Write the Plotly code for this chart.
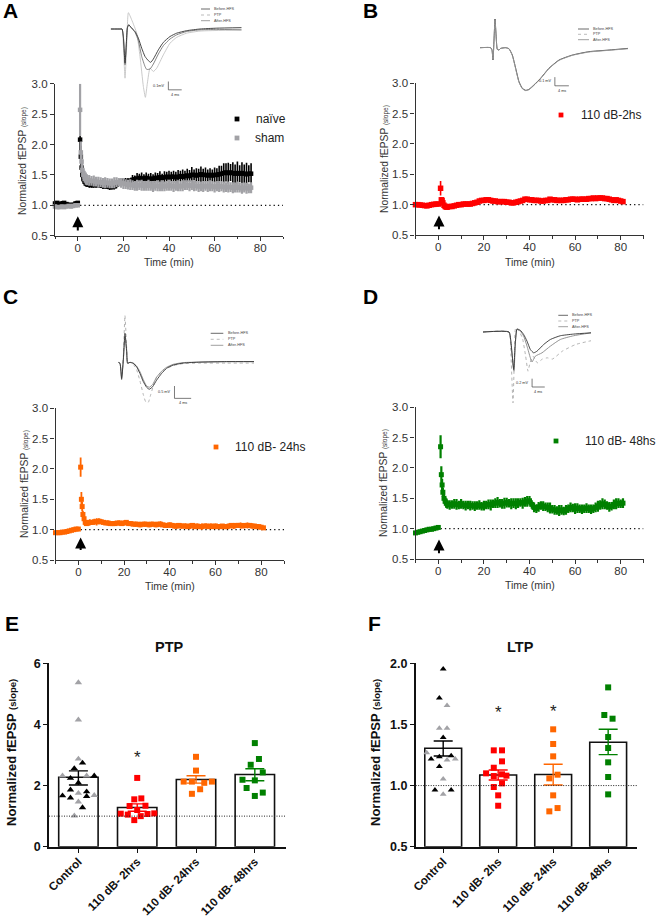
import plotly.graph_objects as go

W, H = 658, 919
FONT = "Liberation Sans, Arial, sans-serif"
AXC = "#2b2b2b"

# ---------- time axes ----------
pre_t = [-10, -9, -8, -7, -6, -5, -4, -3, -2, -1, 0]
early_t = [1, 1.33, 1.67, 2, 2.5, 3, 3.5, 4]
t_a = pre_t + early_t + list(range(5, 77))
t_b = pre_t + early_t + list(range(5, 82))

# ---------- panel A ----------
naive_mean = [1.03, 1.04, 1.02, 1.03, 1.04, 1.02, 1.01, 1.00, 1.01, 1.03, 1.04,
              2.08, 1.80, 1.62, 1.50, 1.43, 1.39, 1.36, 1.35,
              1.34, 1.33, 1.33, 1.34, 1.33, 1.33, 1.32, 1.31, 1.31, 1.30,
              1.30, 1.31, 1.34, 1.37, 1.39, 1.40, 1.39, 1.38, 1.40, 1.42,
              1.43, 1.44, 1.45, 1.44, 1.44, 1.45, 1.44, 1.43, 1.44, 1.45,
              1.45, 1.46, 1.45, 1.46, 1.47, 1.46, 1.47, 1.47, 1.46, 1.47,
              1.48, 1.47, 1.48, 1.49, 1.48, 1.50, 1.50, 1.49, 1.50, 1.51,
              1.50, 1.50, 1.49, 1.50, 1.49, 1.50, 1.50, 1.51, 1.52, 1.53,
              1.54, 1.53, 1.54, 1.53, 1.52, 1.53, 1.52, 1.53, 1.52, 1.51, 1.52, 1.52]
naive_err = [.03, .02, .03, .04, .02, .03, .03, .02, .03, .04, .03,
             .30, .18, .12, .09, .07, .06, .05, .05,
             .05, .04, .04, .05, .04, .04, .05, .04, .04, .05,
             .04, .05, .06, .05, .06, .05, .06, .07, .05, .08,
             .06, .09, .07, .10, .07, .09, .08, .10, .07, .09,
             .08, .10, .07, .10, .08, .11, .08, .10, .09, .11,
             .09, .12, .09, .11, .10, .13, .09, .12, .10, .13,
             .10, .12, .10, .11, .10, .12, .11, .14, .13, .16,
             .15, .17, .14, .18, .15, .19, .14, .18, .15, .19, .14, .17]
sham_mean = [.98, .97, .97, .98, .97, .98, .99, .98, .99, 1.0, 1.0,
             2.57, 1.87, 1.72, 1.58, 1.50, 1.47, 1.44, 1.42,
             1.41, 1.40, 1.40, 1.39, 1.38, 1.38, 1.37, 1.37, 1.37, 1.36,
             1.36, 1.37, 1.38, 1.38, 1.37, 1.36, 1.35, 1.34, 1.34, 1.33,
             1.32, 1.33, 1.33, 1.33, 1.32, 1.32, 1.33, 1.32, 1.31, 1.32,
             1.32, 1.31, 1.32, 1.31, 1.32, 1.33, 1.32, 1.31, 1.32, 1.32,
             1.31, 1.32, 1.33, 1.33, 1.32, 1.33, 1.32, 1.32, 1.31, 1.31,
             1.31, 1.32, 1.31, 1.32, 1.31, 1.30, 1.31, 1.31, 1.31, 1.30,
             1.30, 1.30, 1.30, 1.29, 1.29, 1.30, 1.29, 1.28, 1.29, 1.28, 1.28, 1.29]
sham_err = [.03, .03, .02, .03, .03, .02, .03, .03, .02, .03, .03,
            .43, .18, .13, .11, .10, .10, .10, .09,
            .09, .08, .09, .08, .09, .08, .08, .09, .08, .08,
            .08, .09, .08, .07, .08, .09, .08, .08, .09, .08,
            .08, .09, .08, .09, .08, .08, .09, .08, .09, .08,
            .09, .08, .09, .08, .08, .09, .08, .09, .08, .09,
            .08, .09, .08, .08, .09, .08, .09, .08, .09, .08,
            .09, .08, .09, .09, .08, .09, .08, .09, .08, .09,
            .08, .09, .08, .09, .08, .09, .08, .09, .08, .09, .08, .09]

# ---------- panel B ----------
red_mean = [1.0, 1.0, .995, .99, .985, .98, .99, 1.0, 1.005, 1.01, 1.01,
            1.27, 1.08, 1.07, 1.03, .99, .97, .96, .96,
            .97, .97, .98, .99, 1.0, 1.0, 1.01, 1.01, 1.01, 1.01,
            1.02, 1.03, 1.04, 1.06, 1.07, 1.07, 1.08, 1.08, 1.07, 1.06,
            1.06, 1.05, 1.05, 1.05, 1.05, 1.04, 1.04, 1.03, 1.03, 1.04,
            1.05, 1.06, 1.07, 1.09, 1.09, 1.08, 1.08, 1.07, 1.07, 1.07,
            1.06, 1.06, 1.07, 1.07, 1.09, 1.08, 1.08, 1.07, 1.07, 1.07,
            1.07, 1.08, 1.08, 1.09, 1.09, 1.09, 1.08, 1.09, 1.09, 1.09,
            1.09, 1.10, 1.10, 1.11, 1.10, 1.11, 1.11, 1.11, 1.10, 1.10,
            1.09, 1.08, 1.07, 1.08, 1.07, 1.06, 1.05]
red_err = [.01, .01, .01, .01, .01, .01, .01, .01, .01, .01, .01,
           .12, .04, .03, .03, .02, .02, .02, .02,
           .02, .02, .02, .02, .02, .02, .02, .02, .02, .02,
           .02, .02, .02, .02, .03, .02, .02, .03, .02, .02,
           .02, .02, .02, .03, .02, .02, .02, .02, .03, .02,
           .02, .03, .02, .03, .02, .02, .03, .02, .02, .03,
           .02, .02, .03, .02, .03, .02, .02, .03, .02, .02,
           .02, .03, .02, .03, .02, .03, .02, .02, .03, .02,
           .03, .02, .03, .03, .02, .03, .02, .03, .02, .03,
           .02, .03, .02, .03, .02, .02, .03]

# ---------- panel C ----------
orange_mean = [.95, .95, .95, .96, .96, .97, .98, .99, 1.0, 1.01, 1.01,
               2.03, 1.50, 1.38, 1.25, 1.18, 1.12, 1.10, 1.11,
               1.12, 1.12, 1.13, 1.13, 1.14, 1.13, 1.12, 1.11, 1.11, 1.10,
               1.10, 1.10, 1.11, 1.11, 1.10, 1.11, 1.12, 1.10, 1.10, 1.09,
               1.09, 1.09, 1.08, 1.09, 1.09, 1.09, 1.08, 1.09, 1.09, 1.08,
               1.09, 1.09, 1.08, 1.07, 1.07, 1.08, 1.07, 1.06, 1.06, 1.07,
               1.06, 1.06, 1.06, 1.05, 1.06, 1.07, 1.05, 1.06, 1.05, 1.05,
               1.06, 1.06, 1.05, 1.06, 1.05, 1.06, 1.05, 1.05, 1.06, 1.05,
               1.05, 1.06, 1.07, 1.06, 1.07, 1.07, 1.07, 1.06, 1.07, 1.07,
               1.07, 1.06, 1.06, 1.05, 1.05, 1.04, 1.03]
orange_err = [.01, .01, .01, .01, .01, .01, .01, .02, .02, .02, .02,
              .16, .12, .08, .06, .05, .04, .04, .05,
              .05, .04, .05, .06, .05, .04, .04, .03, .04, .03,
              .03, .04, .03, .04, .03, .04, .04, .03, .04, .03,
              .04, .03, .04, .03, .04, .03, .04, .04, .03, .04,
              .04, .05, .03, .04, .03, .04, .03, .04, .05, .03,
              .04, .03, .04, .03, .05, .04, .03, .04, .03, .05,
              .03, .04, .03, .04, .03, .04, .03, .04, .03, .04,
              .03, .04, .03, .05, .03, .04, .05, .03, .04, .05,
              .03, .04, .03, .04, .03, .03, .02]

# ---------- panel D ----------
green_mean = [.93, .94, .95, .96, .97, .98, .99, .99, 1.0, 1.01, 1.02,
              2.35, 1.89, 1.72, 1.60, 1.50, 1.45, 1.42, 1.40,
              1.39, 1.40, 1.41, 1.40, 1.39, 1.41, 1.39, 1.38, 1.39, 1.38,
              1.38, 1.37, 1.38, 1.39, 1.37, 1.38, 1.39, 1.40, 1.39, 1.41,
              1.42, 1.43, 1.42, 1.41, 1.42, 1.43, 1.42, 1.41, 1.42, 1.41,
              1.42, 1.43, 1.42, 1.44, 1.45, 1.46, 1.40, 1.35, 1.33, 1.36,
              1.38, 1.37, 1.36, 1.35, 1.34, 1.32, 1.31, 1.30, 1.30, 1.31,
              1.29, 1.31, 1.33, 1.35, 1.34, 1.33, 1.34, 1.33, 1.32, 1.33,
              1.34, 1.33, 1.32, 1.33, 1.35, 1.37, 1.39, 1.41, 1.40, 1.38,
              1.36, 1.37, 1.40, 1.41, 1.42, 1.41, 1.42]
green_err = [.01, .01, .01, .01, .01, .01, .01, .01, .01, .01, .01,
             .19, .14, .10, .08, .07, .07, .08, .07,
             .08, .07, .08, .09, .07, .08, .07, .08, .07, .08,
             .07, .08, .07, .08, .07, .08, .07, .08, .09, .07,
             .08, .09, .07, .08, .09, .08, .07, .09, .08, .09,
             .08, .07, .09, .08, .09, .08, .07, .08, .07, .08,
             .07, .08, .07, .08, .09, .07, .08, .07, .09, .08,
             .07, .08, .07, .08, .07, .09, .08, .07, .08, .07,
             .08, .07, .08, .07, .08, .09, .08, .09, .08, .07,
             .08, .07, .08, .09, .08, .07, .08]

# ---------- inset traces (ms, mV) ----------
ia_bt = [0, 2.8, 3.4, 3.8, 4.3, 4.7, 5.0, 5.4, 6.3, 7.3, 8.3, 9.3, 10.3, 11.3, 12, 12.8, 14.3, 15.8, 17.8, 19.8, 22.8, 26.8, 31.8, 39.3]
ia_bv = [0, 0, 0, -.09, -.41, -.17, .01, .05, .01, -.03, -.11, -.23, -.33, -.38, -.40, -.36, -.25, -.16, -.09, -.05, -.02, 0, .01, .016]
ia_at = [0, 2.8, 3.4, 3.8, 4.3, 4.7, 5.0, 5.4, 6.3, 7.3, 8.3, 9.3, 10.3, 10.8, 11.8, 12.8, 14.3, 15.8, 17.8, 19.8, 22.8, 26.8, 31.8, 39.3]
ia_av = [0, 0, 0, -.1, -.43, -.17, .02, .05, .01, -.04, -.14, -.33, -.45, -.485, -.48, -.42, -.30, -.2, -.12, -.07, -.03, -.01, -.005, -.01]
ia_pt = [0, 2.8, 3.4, 3.8, 4.3, 4.8, 5.3, 6.3, 7.8, 8.8, 9.8, 10.4, 11, 11.8, 12.8, 13.8, 15.8, 17.8, 19.8, 22.8, 26.8, 39.3]
ia_pv = [0, 0, 0, -.2, -.59, -.2, .196, .11, -.05, -.33, -.69, -.82, -.65, -.47, -.51, -.47, -.31, -.17, -.10, -.05, -.025, -.012]

ib_t = [0, 3.05, 3.43, 3.71, 4.0, 4.29, 4.57, 4.95, 5.43, 5.9, 7.33, 8.29, 9.24, 10.2, 11.14, 12.1, 13.05, 14, 15.4, 17.3, 19.7, 22.6, 26.4, 31.1, 36.9, 42.3]
ib_bv = [0, 0, -.027, -.142, .088, .331, .165, -.019, -.027, -.008, 0, -.012, -.085, -.238, -.392, -.469, -.492, -.481, -.431, -.354, -.238, -.142, -.085, -.046, -.027, -.008]
ib_av = [0, 0, -.027, -.135, .08, .32, .16, -.019, -.027, -.008, 0, -.014, -.09, -.245, -.398, -.474, -.496, -.485, -.436, -.358, -.242, -.146, -.088, -.05, -.03, -.012]

ic_t = [0, .4, .8, 1.2, 1.6, 2, 2.24, 2.8, 3.6, 4.4, 5.2, 6, 6.8, 7.44, 8.24, 9.2, 10.4, 11.6, 13.2, 15.6, 19.6, 26, 32.6]
ic_bv = [0, -.04, -.69, .09, 1.18, .5, -.04, 0, -.04, -.18, -.45, -.78, -1.01, -1.09, -.99, -.72, -.45, -.24, -.11, -.03, .01, .03, .03]
ic_av = [0, -.04, -.62, .09, 1.0, .45, -.03, 0, -.03, -.15, -.38, -.7, -.96, -1.01, -.9, -.6, -.36, -.2, -.08, -.01, .01, .03, .03]
ic_pt = [0, .4, .8, 1.2, 1.6, 2, 2.24, 2.8, 3.6, 4.4, 5.2, 6, 6.6, 7.2, 7.8, 8.6, 9.2, 10.4, 11.6, 13.2, 15.6, 19.6, 26, 32.6]
ic_pv = [0, -.04, -.6, .2, 1.9, .6, -.03, 0, -.08, -.3, -.75, -1.3, -1.6, -1.62, -1.3, -.85, -.6, -.4, -.25, -.13, -.05, -.03, -.03, -.03]

id_bt = [0, 8.21, 8.74, 9.68, 10.2, 10.74, 11.8, 12.84, 13.9, 14.95, 16, 17.05, 19.16, 21.26, 24.4, 28.6, 34.1]
id_bv = [0, 0, -.18, -.9, -.26, .07, .04, -.06, -.22, -.42, -.5, -.46, -.3, -.18, -.09, -.05, -.02]
id_at = [0, 8.21, 8.74, 9.79, 10.2, 10.74, 11.8, 12.84, 13.9, 14.95, 15.47, 16.53, 18.63, 21.26, 24.4, 28.6, 34.1]
id_av = [0, 0, -.22, -.94, -.3, .07, .02, -.1, -.34, -.62, -.72, -.58, -.5, -.34, -.18, -.09, -.02]
id_pt = [0, 8.21, 8.74, 9.47, 9.89, 10.32, 11.37, 12.42, 13.47, 14.21, 14.84, 15.79, 17.16, 18.74, 20.32, 21.9, 25.05, 29.26, 34.1]
id_pv = [0, 0, -.42, -1.7, -.66, .1, .02, -.14, -.58, -.94, -.74, -.58, -.74, -.65, -.62, -.65, -.46, -.3, -.21]

# ---------- bar panels ----------
ptp_labels = ["Control", "110 dB- 2hrs", "110 dB- 24hrs", "110 dB- 48hrs"]
ltp_labels = ["Control", "110 dB- 2hs", "110 dB- 24hs", "110 dB- 48hs"]
ptp_means = [2.27, 1.28, 2.20, 2.36]
ptp_up = [.21, .12, .12, .19]
ptp_dn = [.25, .12, .12, .20]
ltp_means = [1.305, 1.086, 1.09, 1.354]
ltp_up = [.06, .041, .084, .106]
ltp_dn = [.063, .041, .085, .101]

e_gray_x = [0, 0, 0, -.27, .14, 0, .27, 0, -.07]
e_gray_y = [5.37, 4.15, 2.87, 2.32, 2.32, 1.75, 1.68, 1.47, 1.01]
e_black_x = [-.07, .07, .27, -.135, 0, -.135, .14, -.27, -.135, .14, .07]
e_black_y = [2.56, 2.74, 2.32, 2.24, 2.09, 1.86, 1.80, 1.67, 1.6, 1.65, 1.28]
e_red_x = [1, .95, 1.07, .87, 1.14, 1, .72, .84, 1.175, 1.29, 1.06, .95]
e_red_y = [2.25, 1.55, 1.58, 1.33, 1.34, 1.2, 1.08, 1.05, 1.07, 1.09, 1.0, .87]
e_orange_x = [2, 2, 1.79, 1.93, 2.14, 2.27, 2.07, 1.93]
e_orange_y = [2.94, 2.49, 2.13, 2.13, 2.09, 2.13, 1.88, 1.73]
e_green_x = [3, 3.07, 2.93, 3.135, 2.79, 3, 2.86, 3.135, 3]
e_green_y = [3.39, 2.87, 2.68, 2.43, 2.19, 2.17, 1.92, 1.77, 1.66]

f_black_x = [0, -.07, 0, .145, -.07, -.22, -.07, -.15, .145]
f_black_y = [1.953, 1.716, 1.394, 1.244, 1.236, 1.217, 1.155, .964, .964]
f_gray_x = [.07, -.07, .07, -.3, .07, .22, 0, 0]
f_gray_y = [1.654, 1.468, 1.468, 1.269, 1.21, 1.217, 1.054, .928]
f_red_x = [.92, 1.07, 1.07, .92, .78, .92, 1.07, 1.15, 1.07, .92, 1, 1]
f_red_y = [1.288, 1.288, 1.198, 1.146, 1.1, 1.078, 1.092, 1.081, 1.018, .988, .92, .835]
f_orange_x = [2, 2, 2, 2.08, 1.93, 2, 2.08, 1.93]
f_orange_y = [1.46, 1.34, 1.239, 1.089, 1.059, .92, .816, .789]
f_green_x = [3, 2.93, 3.08, 3, 3, 3, 3, 3]
f_green_y = [1.803, 1.577, 1.547, 1.397, 1.307, 1.19, 1.07, .928]

BLACK, GRAY, RED, ORANGE, GREEN = "#000000", "#a2a2a6", "#ff0000", "#ff6600", "#008000"
BAR_COLORS = [BLACK, RED, ORANGE, GREEN]


def px(x):
    return x / W


def py(y):
    return 1 - y / H


fig = go.Figure()
layout = dict(width=W, height=H, margin=dict(l=0, r=0, t=0, b=0), paper_bgcolor="white",
              plot_bgcolor="rgba(0,0,0,0)", showlegend=False, font=dict(family=FONT, color=AXC))
annots, shapes = [], []


def text(x, y, s, size=11, anchor="center", color=AXC, angle=0, bold=False):
    if bold:
        s = "<b>" + s + "</b>"
    annots.append(dict(x=px(x), y=py(y), xref="paper", yref="paper", text=s, showarrow=False,
                       xanchor=anchor, yanchor="middle", textangle=angle,
                       font=dict(size=size, color=color, family=FONT)))


def axes(n, xdom, ydom, xr, yr, visible=True):
    sx = "" if n == 1 else str(n)
    xa = dict(domain=[px(xdom[0]), px(xdom[1])], range=xr, anchor="y" + sx, showgrid=False, zeroline=False,
              visible=visible, automargin=False)
    ya = dict(domain=[py(ydom[1]), py(ydom[0])], range=yr, anchor="x" + sx, showgrid=False, zeroline=False,
              visible=visible, automargin=False)
    layout["xaxis" + sx] = xa
    layout["yaxis" + sx] = ya
    return xa, ya


def time_panel(n, xdom, ydom, series, title_x, title_y, time_y, msize, arrow=(.3, .82, .57)):
    xa, ya = axes(n, xdom, ydom, [-10, 90], [.5, 3.0])
    line = dict(showline=True, linecolor="#333", linewidth=1.2, ticks="outside", ticklen=4, tickwidth=1,
                tickcolor="#333", tickfont=dict(size=11.5, color="#333", family=FONT))
    xa.update(line, tickvals=[0, 20, 40, 60, 80], ticklabelstandoff=-3,
              minor=dict(tickvals=[-10, 10, 30, 50, 70, 90], ticks="outside", ticklen=2.5, tickcolor="#333"))
    ya.update(line, tickvals=[.5, 1, 1.5, 2, 2.5, 3], ticktext=["0.5", "1.0", "1.5", "2.0", "2.5", "3.0"])
    sx = "" if n == 1 else str(n)
    shapes.append(dict(type="line", xref="x" + sx, yref="y" + sx, x0=1, x1=90, y0=1, y1=1,
                       line=dict(color="#111", width=1.3, dash="1.3px,3px"), layer="below"))
    for t, m, e, c, th in series:
        fig.add_trace(go.Scatter(x=t, y=m, mode="markers", xaxis="x" + sx, yaxis="y" + sx, cliponaxis=False,
                                 marker=dict(symbol="square", size=msize, color=c),
                                 error_y=dict(type="data", array=e, color=c, thickness=th, width=0)))
    annots.append(dict(x=arrow[0], y=arrow[1], ax=arrow[0], ay=arrow[2], xref="x" + sx, yref="y" + sx,
                       axref="x" + sx, ayref="y" + sx, text="", showarrow=True, arrowhead=2, arrowsize=1.1,
                       arrowwidth=2, arrowcolor="#000"))
    text(title_x, title_y, 'Normalized fEPSP <span style="font-size:6.5px">(slope)</span>', 10.3, angle=-90, color="#333")
    text((xdom[0] + xdom[1]) / 2, time_y, "Time (min)", 10.5, color="#333")


def inset(n, xdom, ydom, xr, yr, traces, bar_t, bar_v, bar_len, bar_h, vlabel, leg_x0, leg_x1, leg_txt, leg_ys):
    axes(n, xdom, ydom, xr, yr, visible=False)
    sx = str(n)
    for t, v, c, d in traces:
        fig.add_trace(go.Scatter(x=t, y=v, mode="lines", xaxis="x" + sx, yaxis="y" + sx, cliponaxis=False,
                                 line=dict(color=c, width=.9, dash=d, shape="spline", smoothing=.5)))
    l = dict(color="#444", width=.7)
    shapes.append(dict(type="line", xref="x" + sx, yref="y" + sx, x0=bar_t, x1=bar_t + bar_len, y0=bar_v, y1=bar_v, line=l))
    shapes.append(dict(type="line", xref="x" + sx, yref="y" + sx, x0=bar_t, x1=bar_t, y0=bar_v, y1=bar_v + bar_h, line=l))
    annots.append(dict(x=bar_t, y=bar_v + bar_h / 2, xref="x" + sx, yref="y" + sx, text=vlabel, showarrow=False,
                       xanchor="right", xshift=-2, font=dict(size=3.8, color="#333", family=FONT)))
    annots.append(dict(x=bar_t + bar_len / 2, y=bar_v, xref="x" + sx, yref="y" + sx, text="4 ms", showarrow=False,
                       yanchor="top", yshift=-1, font=dict(size=3.8, color="#333", family=FONT)))
    cols = ["#444", "#aaa", "#888"]
    labs = ["Before-HFS", "PTP", "After-HFS"]
    for yy, c, lab, d in zip(leg_ys, cols, labs, ["solid", "dot", "solid"]):
        shapes.append(dict(type="line", xref="paper", yref="paper", x0=px(leg_x0), x1=px(leg_x1), y0=py(yy), y1=py(yy),
                           line=dict(color=c, width=.8, dash=d)))
        text(leg_txt, yy, lab, 3.8, anchor="left", color="#444")


def key(x, y, s, c, tx, size=12, half=2.4):
    shapes.append(dict(type="rect", xref="paper", yref="paper", x0=px(x - half), x1=px(x + half), y0=py(y - half), y1=py(y + half),
                       fillcolor=c, line=dict(width=0)))
    text(tx, y, s, size, anchor="left", color="#222")


time_panel(1, (55, 283), (83.7, 235.7), [(t_a, naive_mean, naive_err, BLACK, 1.6), (t_a, sham_mean, sham_err, GRAY, 2.2)], 23, 161, 262, 4.5, (0, .82, .56))
time_panel(2, (415.5, 643.5), (83.3, 235), [(t_b, red_mean, red_err, RED, 1.6)], 384, 159, 262, 5.5)
time_panel(3, (55.5, 284), (408.3, 560), [(t_b, orange_mean, orange_err, ORANGE, 1.8)], 24, 484, 586, 5, (1, .87, .64))
time_panel(4, (415.5, 643.5), (407.3, 559), [(t_b, green_mean, green_err, GREEN, 2.2)], 384, 483, 585, 5)

key(237, 119, "naïve", BLACK, 254)
key(237, 138, "sham", GRAY, 253)
key(561, 115, "110 dB-2hs", RED, 579)
key(216, 447, "110 dB- 24hs", ORANGE, 233)
key(556, 441, "110 dB- 48hs", GREEN, 583)

inset(5, (110.7, 241.7), (10, 100), [0, 39.3], [-.852, .228],
      [(ia_pt, ia_pv, "#c4c4c4", "solid"), (ia_at, ia_av, "#777", "solid"), (ia_bt, ia_bv, "#333", "solid")],
      17.3, -.73, 4, .1, "0.1mV", 201, 210, 212, (9, 15, 20.7))
inset(6, (480, 628), (16.7, 91.7), [0, 42.3], [-.508, .358],
      [(ib_t, ib_bv, "#333", "solid"), (ib_t, ib_av, "#999", "solid")],
      21.4, -.44, 4, .1, "0.1 mV", 578, 589, 591, (29, 34.3, 39.7))
inset(7, (118.3, 254), (315, 403.3), [0, 32.6], [-1.66, 1.92],
      [(ic_pt, ic_pv, "#aaa", "dot"), (ic_t, ic_av, "#888", "solid"), (ic_t, ic_bv, "#333", "solid")],
      13.5, -1.46, 4, .5, "0.5 mV", 210.7, 223.3, 225.7, (333.3, 339.3, 345.3))
inset(8, (483, 591), (313, 403), [0, 34.1], [-1.704, .456],
      [(id_pt, id_pv, "#aaa", "dot"), (id_at, id_av, "#888", "solid"), (id_bt, id_bv, "#333", "solid")],
      15.5, -1.32, 4, .2, "0.2 mV", 558.3, 568, 570, (315.3, 321, 326.7))


def bar_panel(n, xdom, ydom, yr, yticks, ticktext, labels, means, up, dn, dots, title, title_x, ytitle_x, stars):
    xa, ya = axes(n, xdom, ydom, [-.5, 3.53], yr)
    line = dict(showline=True, linecolor="#111", linewidth=1.6, ticks="outside", ticklen=4, tickwidth=1.4, tickcolor="#111",
                tickfont=dict(size=12.5, color="#111", family=FONT, weight="bold"))
    xa.update(line, tickvals=[0, 1, 2, 3], ticktext=labels, tickangle=-45, ticklabelstandoff=-2)
    xa["tickfont"] = dict(size=11.6, color="#111", family=FONT, weight="bold")
    ya.update(line, tickvals=yticks, ticktext=ticktext)
    sx = str(n)
    fig.add_trace(go.Bar(x=[0, 1, 2, 3], y=[m - yr[0] for m in means], base=yr[0], xaxis="x" + sx, yaxis="y" + sx, width=.67,
                         marker=dict(color="white", line=dict(color="#111", width=1.6))))
    for xs, ys, sym, c, s in dots:
        fig.add_trace(go.Scatter(x=xs, y=ys, mode="markers", xaxis="x" + sx, yaxis="y" + sx, cliponaxis=False,
                                 marker=dict(symbol=sym, color=c, size=s)))
    for i, c in enumerate(BAR_COLORS):
        fig.add_trace(go.Scatter(x=[i], y=[means[i]], mode="markers", xaxis="x" + sx, yaxis="y" + sx,
                                 marker=dict(size=1, color="rgba(0,0,0,0)"),
                                 error_y=dict(type="data", array=[up[i]], arrayminus=[dn[i]], color=c, thickness=1.4, width=9.5)))
    shapes.append(dict(type="line", xref="x" + sx + " domain", yref="y" + sx, x0=0, x1=1, y0=1, y1=1,
                       line=dict(color="#222", width=1, dash="1px,1.5px"), layer="above"))
    for sxv, syv in stars:
        annots.append(dict(x=sxv, y=syv, xref="x" + sx, yref="y" + sx, text="*", showarrow=False, yshift=-2,
                           font=dict(size=17, color="#222", family=FONT)))
    text(title_x, 647, title, 14.5, bold=True, color="#111")
    text(ytitle_x, 753, '<b>Normalized fEPSP </b><span style="font-size:9.5px"><b>(slope)</b></span>', 13, angle=-90, color="#111")


bar_panel(9, (49, 286), (663.3, 846.7), [0, 6], [0, 2, 4, 6], ["0", "2", "4", "6"], ptp_labels, ptp_means, ptp_up, ptp_dn,
          [(e_gray_x, e_gray_y, "triangle-up", GRAY, 6.5), (e_black_x, e_black_y, "triangle-up", BLACK, 6.5),
           (e_red_x, e_red_y, "square", RED, 6), (e_orange_x, e_orange_y, "square", ORANGE, 6),
           (e_green_x, e_green_y, "square", GREEN, 6)],
          "PTP", 169, 11, [(1, 3.0)])
bar_panel(10, (415.7, 637.3), (663.3, 846.7), [.5, 2.0], [.5, 1, 1.5, 2], ["0.5", "1.0", "1.5", "2.0"], ltp_labels, ltp_means, ltp_up, ltp_dn,
          [(f_gray_x, f_gray_y, "triangle-up", GRAY, 6), (f_black_x, f_black_y, "triangle-up", BLACK, 6),
           (f_red_x, f_red_y, "square", RED, 6), (f_orange_x, f_orange_y, "square", ORANGE, 6),
           (f_green_x, f_green_y, "square", GREEN, 6)],
          "LTP", 520, 375, [(1, 1.61), (2, 1.62)])

for lab, x, y in [("A", 10, 11), ("B", 370, 11), ("C", 10, 296), ("D", 370, 296), ("E", 12, 623), ("F", 374, 623)]:
    text(x, y, lab, 21, bold=True, color="#000")

layout["annotations"] = annots
layout["shapes"] = shapes
fig.update_layout(**layout)
fig.write_html("out.html", config=dict(displayModeBar=False),
               post_script="document.body.style.margin='0';document.body.style.overflow='hidden';")
